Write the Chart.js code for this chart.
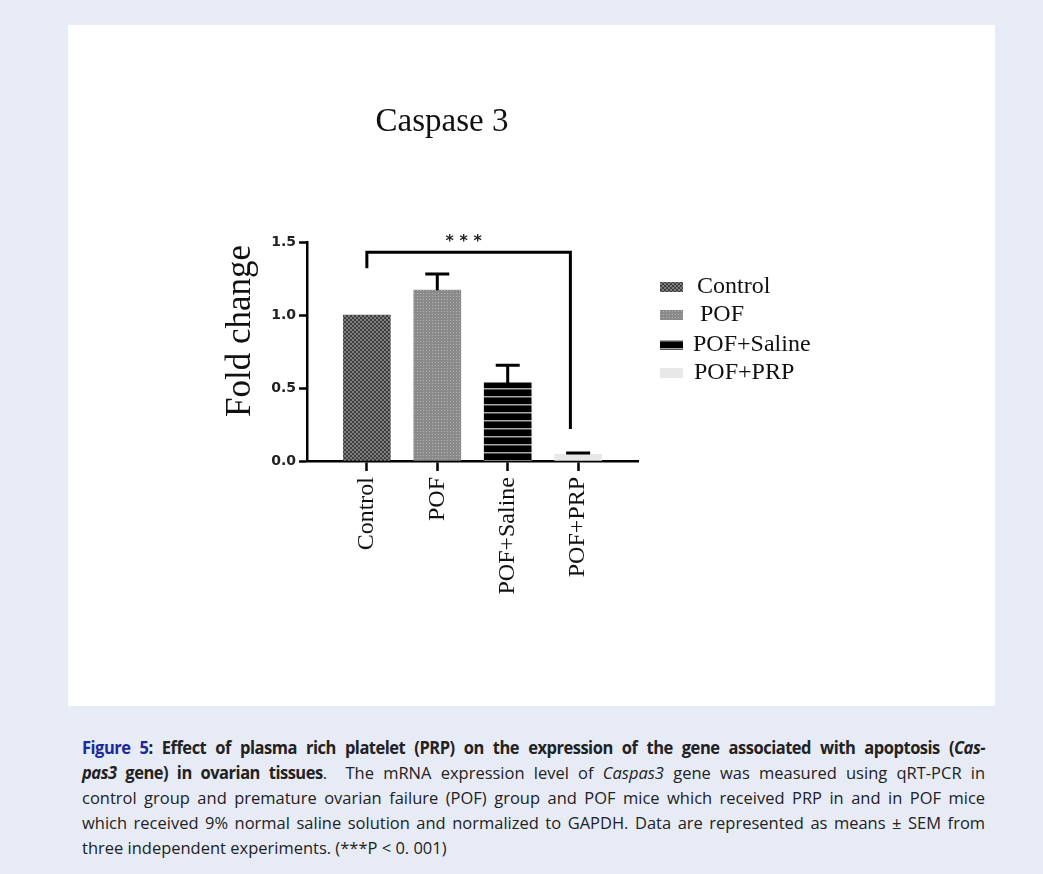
<!DOCTYPE html>
<html>
<head>
<meta charset="utf-8">
<script src="https://cdn.jsdelivr.net/npm/chart.js"></script>
<title>Caspase 3</title>
<style>
  body { margin: 0; width: 1043px; height: 874px; background: #e7ebf6; position: relative; overflow: hidden; }
  #panel { position: absolute; left: 68px; top: 25px; width: 927px; height: 681px; background: #fff; }
  #caption { position: absolute; left: 82px; top: 735px; width: 931px; transform: scaleX(0.97); transform-origin: 0 0;
             font-family: "Open Sans", sans-serif; font-size: 17px; line-height: 25px; color: #222; }
  #caption div { text-align: justify; text-align-last: justify; white-space: nowrap; }
  #caption div.last { text-align-last: left; }
  #caption b { letter-spacing: -0.5px; }
  .fig { color: #1c2a99; }
</style>
</head>
<body>
<div id="panel"><canvas id="chart" width="927" height="681"></canvas></div>
<div id="caption">
  <div><b><span class="fig">Figure 5</span>: Effect of plasma rich platelet (PRP) on the expression of the gene associated with apoptosis (<i>Cas-</i></b></div>
  <div><b><i>pas3</i> gene) in ovarian tissues</b>.&nbsp; The mRNA expression level of <i>Caspas3</i> gene was measured using qRT-PCR in</div>
  <div>control group and premature ovarian failure (POF) group and POF mice which received PRP in and in POF mice</div>
  <div>which received 9% normal saline solution and normalized to GAPDH. Data are represented as means ± SEM from</div>
  <div class="last">three independent experiments. (***P &lt; 0. 001)</div>
</div>

<script>
// data
const groups = ['Control', 'POF', 'POF+Saline', 'POF+PRP'];
const means = [1.0, 1.17, 0.535, 0.045];
const sem = [0, 0.11, 0.12, 0.01];
const yTicks = [0, 0.5, 1.0, 1.5];
// significance bracket Control vs POF+PRP: x ends (group index), y of left foot, top, right foot
const bracketX = [0, 2.89];
const bracketY = [1.32, 1.43, 0.22];
const sigLabel = '* * *';

// bar fill patterns
function makePattern(w, h, draw) {
  const c = document.createElement('canvas');
  c.width = w; c.height = h;
  draw(c.getContext('2d'));
  return c.getContext('2d').createPattern(c, 'repeat');
}
const ctrlFill = makePattern(4, 4, g => {
  g.fillStyle = '#7e7e7e'; g.fillRect(0, 0, 4, 4);
  g.fillStyle = '#3e3e3e'; g.fillRect(0, 0, 2, 2); g.fillRect(2, 2, 2, 2);
});
const pofFill = makePattern(3, 3, g => {
  g.fillStyle = '#8a8a8a'; g.fillRect(0, 0, 3, 3);
  g.fillStyle = '#b2b2b2'; g.fillRect(1, 1, 1, 1);
});
const salineFill = makePattern(4, 8, g => {
  g.fillStyle = '#000'; g.fillRect(0, 0, 4, 8);
  g.fillStyle = '#a8a8a8'; g.fillRect(0, 3, 4, 1.5);
});
const fills = [ctrlFill, pofFill, salineFill, '#e8e8e8'];

const serif = 'Liberation Serif';

// error bars, bracket, stars, titles and legend
const extras = {
  id: 'extras',
  afterDatasetsDraw(chart) {
    const { ctx, scales: { x, y } } = chart;
    ctx.save();
    ctx.strokeStyle = '#000';
    ctx.lineWidth = 3;
    ctx.beginPath();
    means.forEach((m, i) => {
      if (!sem[i]) return;
      const px = x.getPixelForValue(i);
      const top = y.getPixelForValue(m + sem[i]);
      ctx.moveTo(px, y.getPixelForValue(m));
      ctx.lineTo(px, top);
      ctx.moveTo(px - 12, top);
      ctx.lineTo(px + 12, top);
    });
    ctx.stroke();

    // bracket
    const bx0 = x.getPixelForValue(bracketX[0]);
    const bx1 = x.getPixelForValue(bracketX[1]);
    const by = y.getPixelForValue(bracketY[1]);
    ctx.beginPath();
    ctx.moveTo(bx0, y.getPixelForValue(bracketY[0]));
    ctx.lineTo(bx0, by);
    ctx.lineTo(bx1, by);
    ctx.lineTo(bx1, y.getPixelForValue(bracketY[2]));
    ctx.stroke();

    ctx.fillStyle = '#222';
    ctx.font = 'bold 16px "DejaVu Sans"';
    ctx.textAlign = 'center';
    ctx.textBaseline = 'middle';
    ctx.fillText(sigLabel, (bx0 + bx1) / 2 - 5, by - 10);
    ctx.restore();
  },
  afterDraw(chart) {
    const { ctx } = chart;
    ctx.save();
    ctx.fillStyle = '#111';
    ctx.font = '33px "' + serif + '"';
    ctx.textAlign = 'center';
    ctx.textBaseline = 'middle';
    ctx.fillText('Caspase 3', 374, 97);

    // y axis title
    ctx.save();
    ctx.translate(173, 306);
    ctx.rotate(-Math.PI / 2);
    ctx.font = '35px "' + serif + '"';
    ctx.fillText('Fold change', 0, 0);
    ctx.restore();

    // legend
    const rows = [262, 290, 320, 348];
    const indent = [0, 3, -4, -3];
    ctx.font = '24px "' + serif + '"';
    ctx.textAlign = 'left';
    groups.forEach((g, i) => {
      ctx.fillStyle = fills[i];
      ctx.fillRect(592, rows[i] - 5, 23, 10);
      ctx.fillStyle = '#111';
      ctx.fillText(g, 629 + indent[i], rows[i]);
    });
    ctx.restore();
  }
};

new Chart(document.getElementById('chart'), {
  type: 'bar',
  data: {
    datasets: [{
      label: 'Caspase 3',
      data: means.map((m, i) => ({ x: i, y: m })),
      backgroundColor: fills,
      borderWidth: 0,
      barThickness: 47
    }]
  },
  options: {
    responsive: false,
    animation: false,
    events: [],
    layout: { padding: { left: 149, right: 357, top: 217, bottom: 85 } },
    plugins: { legend: { display: false }, tooltip: { enabled: false }, title: { display: false } },
    scales: {
      x: {
        type: 'linear',
        min: -0.85,
        max: 3.85,
        offset: false,
        afterBuildTicks: s => { s.ticks = groups.map((g, i) => ({ value: i })); },
        afterFit: s => { s.height = 160; },
        grid: { offset: false, drawOnChartArea: false, tickLength: 10, tickWidth: 2.5, tickColor: '#000' },
        border: { color: '#000', width: 2.5 },
        ticks: {
          autoSkip: false, minRotation: 90, maxRotation: 90, padding: 6,
          color: '#111', font: { family: serif, size: 24 },
          callback: v => groups[v]
        }
      },
      y: {
        min: 0,
        max: 1.5,
        afterBuildTicks: s => { s.ticks = yTicks.map(v => ({ value: v })); },
        afterFit: s => { s.width = 90; },
        grid: { drawOnChartArea: false, tickLength: 8, tickWidth: 2.5, tickColor: '#000' },
        border: { color: '#000', width: 2.5 },
        ticks: {
          padding: 3, color: '#222',
          font: { family: 'DejaVu Sans', size: 14, weight: 'bold' },
          callback: v => v.toFixed(1)
        }
      }
    }
  },
  plugins: [extras]
});
</script>
</body>
</html>
